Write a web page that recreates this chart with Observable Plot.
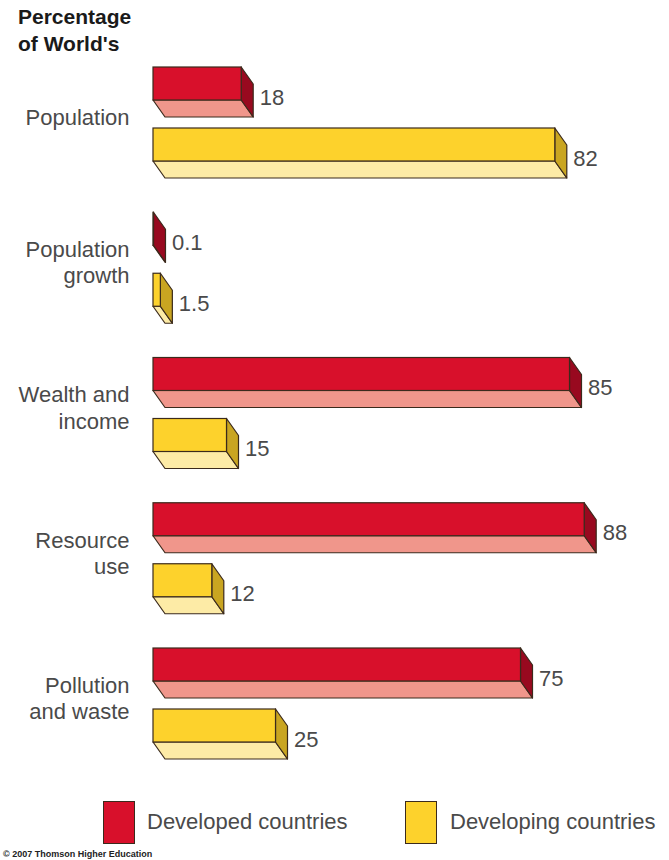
<!DOCTYPE html>
<html>
<head>
<meta charset="utf-8">
<script src="https://cdn.jsdelivr.net/npm/d3@7"></script>
<script src="https://cdn.jsdelivr.net/npm/@observablehq/plot@0.6"></script>
<style>
  html, body { margin: 0; padding: 0; background: #fff; }
  body { width: 669px; height: 860px; position: relative; overflow: hidden; font-family: "Liberation Sans", Arial, sans-serif; }
  #title { position: absolute; left: 18px; top: 3px; font-weight: bold; font-size: 21px; line-height: 27px; color: #1a1a1a; }
  #chart { position: absolute; left: 0; top: 60px; }
  .sw { position: absolute; width: 32px; height: 43px; border: 1px solid #3b2a1c; box-sizing: border-box; }
  .lt { position: absolute; font-size: 22px; color: #4a4a4a; line-height: 26px; }
  #caption { position: absolute; left: 3px; top: 849px; font-size: 9px; font-weight: bold; color: #222; }
</style>
</head>
<body>
<div id="title">Percentage<br>of World's</div>
<div id="chart"></div>
<div id="legend"></div>
<div id="caption">© 2007 Thomson Higher Education</div>
<script>
// ---- data ----
const categories = ["Population", "Population\ngrowth", "Wealth and\nincome", "Resource\nuse", "Pollution\nand waste"];
const series = ["Developed countries", "Developing countries"];
const developed = [18, 0.1, 85, 88, 75];
const developing = [82, 1.5, 15, 12, 25];
const valueLabels = [["18", "0.1", "85", "88", "75"], ["82", "1.5", "15", "12", "25"]];

// ---- styles ----
const frontColors = ["#d8102b", "#fdd22c"];
const bottomColors = ["#f0968b", "#fdeba6"];
const sideColors = ["#98091f", "#c9a521"];
const edge = "#3b2a1c";

// ---- layout (pixels) ----
const W = 669, H = 730;
const pxPerUnit = 4.9, x0 = 153;
const groupStep = 145.25, firstTop = 7, seriesStep = 61;
const faceH = 33, depthX = 12, depthY = 17;
const DX = depthX / pxPerUnit;

const rows = [];
[developed, developing].forEach((vals, s) => {
  vals.forEach((v, i) => {
    rows.push({id: `${s}-${i}`, s, i, v, label: valueLabels[s][i], top: firstTop + i * groupStep + s * seriesStep});
  });
});
const cats = categories.map((c, i) => ({c, top: firstTop + i * groupStep}));

const marks = [];
series.forEach((name, s) => {
  const r = rows.filter(d => d.s === s);
  const bottom = r.flatMap(d => [
    {id: d.id, y: d.top + faceH, x1: 0, x2: d.v},
    {id: d.id, y: d.top + faceH + depthY, x1: DX, x2: d.v + DX}
  ]);
  const side = r.flatMap(d => [
    {id: d.id, x: d.v, y1: d.top, y2: d.top + faceH},
    {id: d.id, x: d.v + DX, y1: d.top + depthY, y2: d.top + faceH + depthY}
  ]);
  marks.push(Plot.areaX(bottom, {y: "y", x1: "x1", x2: "x2", z: "id", fill: bottomColors[s], stroke: edge, strokeWidth: 1.2, strokeLinejoin: "round"}));
  marks.push(Plot.areaY(side, {x: "x", y1: "y1", y2: "y2", z: "id", fill: sideColors[s], stroke: edge, strokeWidth: 1.2, strokeLinejoin: "round"}));
  marks.push(Plot.rect(r, {x1: d => 0, x2: d => d.v, y1: d => d.top, y2: d => d.top + faceH, fill: frontColors[s], stroke: edge, strokeWidth: 1.2}));
});
marks.push(Plot.text(rows, {x: d => d.v + DX, y: d => d.top + 30, text: "label", textAnchor: "start", dx: 6, fontSize: 22, fill: "#4a4a4a"}));
marks.push(Plot.text(cats, {x: d => 0, y: d => d.top + 49, text: "c", textAnchor: "end", dx: -24, fontSize: 22, lineHeight: 1.2, fill: "#4a4a4a"}));

const chart = Plot.plot({
  width: W, height: H,
  marginLeft: 0, marginRight: 0, marginTop: 0, marginBottom: 0,
  style: {fontFamily: "'Liberation Sans', Arial, sans-serif", background: "#fff"},
  x: {domain: [0, 100], range: [x0, x0 + 100 * pxPerUnit], axis: null},
  y: {domain: [0, H], range: [0, H], axis: null},
  marks
});
document.getElementById("chart").appendChild(chart);

// legend
const legend = document.getElementById("legend");
const swX = [103, 405], txX = [147, 450];
series.forEach((name, s) => {
  const b = document.createElement("div");
  b.className = "sw";
  b.style.left = swX[s] + "px"; b.style.top = "801px"; b.style.background = frontColors[s];
  legend.appendChild(b);
  const t = document.createElement("div");
  t.className = "lt";
  t.style.left = txX[s] + "px"; t.style.top = "809px";
  t.textContent = name;
  legend.appendChild(t);
});
</script>
</body>
</html>
